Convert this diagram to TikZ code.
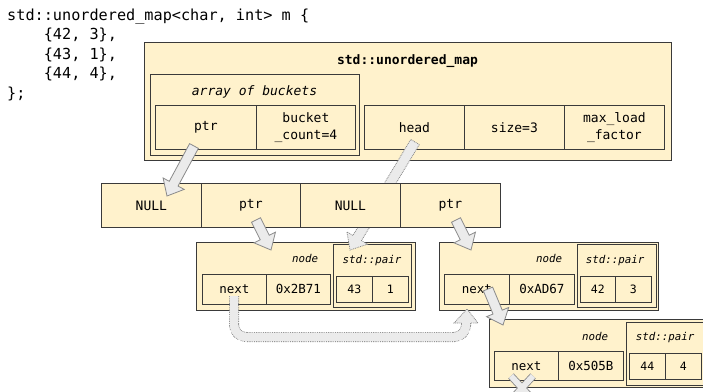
\documentclass[tikz,border=0pt]{standalone}
\usepackage{fontspec}
\setmonofont{DejaVu Sans Mono}
\usetikzlibrary{calc}
\definecolor{cream}{HTML}{FFF2CC}
\definecolor{edge}{HTML}{3A3A3A}
\definecolor{afill}{HTML}{EBEBEB}
\definecolor{aedge}{HTML}{8A8A8A}
\tikzset{
  box/.style={draw=edge, fill=cream, line width=0.8pt, inner sep=0pt, anchor=north west, align=center},
  bigcell/.style={box, font=\ttfamily\fontsize{13}{17}\selectfont},
  ncell/.style={box, font=\ttfamily\fontsize{12.5}{14}\selectfont},
  pcell/.style={box, font=\ttfamily\fontsize{11.5}{13}\selectfont},
  code/.style={anchor=base west, inner sep=0pt, font=\ttfamily\fontsize{15.2}{19.5}\selectfont},
  boldtitle/.style={inner sep=0pt, font=\ttfamily\bfseries\fontsize{13}{16}\selectfont},
  ittitle/.style={inner sep=0pt, font=\ttfamily\itshape\fontsize{13}{16}\selectfont},
  smalllabel/.style={inner sep=0pt, font=\ttfamily\itshape\fontsize{10.8}{13}\selectfont},
  arrowsolid/.style={draw=aedge, fill=afill, line width=0.8pt, line join=miter},
  arrowdotted/.style={arrowsolid, dash pattern=on 0.9pt off 0.9pt},
}
\newcommand\blockarrow[3][]{%
  \coordinate (bah) at ($(#3)!14pt!(#2)$);
  \draw[arrowsolid,#1] ($(#2)!5pt!90:(#3)$) -- ($(bah)!5pt!90:(#3)$) -- ($(bah)!12pt!90:(#3)$) -- (#3) -- ($(bah)!12pt!-90:(#3)$) -- ($(bah)!5pt!-90:(#3)$) -- ($(#2)!5pt!-90:(#3)$) -- cycle;}
\begin{document}
\begin{tikzpicture}[x=1pt,y=-1pt]
\useasboundingbox (0,0) rectangle (703,391);
\clip (0,0) rectangle (703,391);

% code text
\node[code] (c1) at (7,20) {std::unordered\_map<char, int> m \{};
\node[code] (c2) at (7,39.5) {\phantom{0000}\{42, 3\},};
\node[code] (c3) at (7,59) {\phantom{0000}\{43, 1\},};
\node[code] (c4) at (7,78.5) {\phantom{0000}\{44, 4\},};
\node[code] (c5) at (7,98) {\};};

% unordered_map
\node[box, minimum width=527, minimum height=118] (map) at (144,42) {};
\node[boldtitle] (maptitle) at (407.5,61) {std::unordered\_map};
\node[box, minimum width=209, minimum height=81] (arr) at (150,74) {};
\node[ittitle] (arrtitle) at (254.5,92) {array of buckets};
\node[bigcell, minimum width=101, minimum height=44] (ptr) at (155,105) {ptr};
\node[bigcell, minimum width=99, minimum height=44] (bcount) at (256,105) {bucket\\\_count=4};
\node[bigcell, minimum width=100, minimum height=44] (head) at (364,105) {head};
\node[bigcell, minimum width=100, minimum height=44] (size) at (464,105) {size=3};
\node[bigcell, minimum width=100, minimum height=44] (mlf) at (564,105) {max\_load\\\_factor};

% node 1
\node[box, minimum width=219, minimum height=68] (n1) at (196,242) {};
\node[smalllabel] (n1lab) at (305,258) {node};
\node[ncell, minimum width=64, minimum height=30] (n1next) at (202,274) {next};
\node[ncell, minimum width=64, minimum height=30] (n1hash) at (266,274) {0x2B71};
\node[box, minimum width=78, minimum height=63] (n1pair) at (333,244) {};
\node[smalllabel] (n1plab) at (372,261) {std::pair};
\node[pcell, minimum width=36, minimum height=26] (n1k) at (336,276) {43};
\node[pcell, minimum width=36, minimum height=26] (n1v) at (372,276) {1};

% node 2
\node[box, minimum width=219, minimum height=68] (n2) at (439,242) {};
\node[smalllabel] (n2lab) at (549,258) {node};
\node[ncell, minimum width=65, minimum height=30] (n2next) at (444,274) {next};
\node[ncell, minimum width=65, minimum height=30] (n2hash) at (509,274) {0xAD67};
\node[box, minimum width=79, minimum height=63] (n2pair) at (577,244) {};
\node[smalllabel] (n2plab) at (615,261) {std::pair};
\node[pcell, minimum width=35, minimum height=26] (n2k) at (580,276) {42};
\node[pcell, minimum width=36, minimum height=26] (n2v) at (615,276) {3};

% node 3
\node[box, minimum width=220, minimum height=68] (n3) at (489,319) {};
\node[smalllabel] (n3lab) at (595,336) {node};
\node[ncell, minimum width=64, minimum height=29] (n3next) at (494,351) {next};
\node[ncell, minimum width=65, minimum height=29] (n3hash) at (558,351) {0x505B};
\node[box, minimum width=79, minimum height=63] (n3pair) at (626,322) {};
\node[smalllabel] (n3plab) at (665,338) {std::pair};
\node[pcell, minimum width=36, minimum height=26] (n3k) at (629,353) {44};
\node[pcell, minimum width=36, minimum height=26] (n3v) at (665,353) {4};

% head -> first pair (behind the bucket row)
\coordinate (headtail) at (415,142);
\coordinate (pairtip) at (350,250);
\blockarrow[arrowdotted]{headtail}{pairtip}

% bucket array
\node[bigcell, minimum width=100, minimum height=44] (b0) at (101,183) {NULL};
\node[bigcell, minimum width=99, minimum height=44] (b1) at (201,183) {ptr};
\node[bigcell, minimum width=100, minimum height=44] (b2) at (300,183) {NULL};
\node[bigcell, minimum width=100, minimum height=44] (b3) at (400,183) {ptr};

% node1.next -> node2 (curved, dotted)
\coordinate (nxt1) at (234,296);
\coordinate (bendA) at (234,337);
\coordinate (bendB) at (466,337);
\coordinate (nxt2base) at (466,323);
\coordinate (nxt2tip) at (467,309);
\fill[afill] ($(nxt2base)+(-12,0)$) -- (nxt2tip) -- ($(nxt2base)+(12,0)$) -- cycle;
\draw[aedge, line width=10pt, dash pattern=on 0.9pt off 0.9pt, rounded corners=12pt] (nxt1) -- (bendA) -- (bendB) -- (nxt2base);
\draw[afill, line width=8.4pt, rounded corners=12pt] (nxt1) -- (bendA) -- (bendB) -- ($(nxt2base)+(0,-1)$);
\draw[aedge, line width=0.8pt, dash pattern=on 0.9pt off 0.9pt] ($(nxt2base)+(-4.6,0)$) -- ($(nxt2base)+(-12,0)$) -- (nxt2tip) -- ($(nxt2base)+(12,0)$) -- ($(nxt2base)+(4.6,0)$);

% solid arrows
\coordinate (ptrtail) at (194,146);
\coordinate (nulltip) at (167,196);
\blockarrow{ptrtail}{nulltip}
\coordinate (b1tail) at (256,220);
\coordinate (n1tip) at (271,250);
\blockarrow{b1tail}{n1tip}
\coordinate (b3tail) at (456,220);
\coordinate (n2tip) at (471,250);
\blockarrow{b3tail}{n2tip}
\coordinate (n2tail) at (488,289);
\coordinate (n3tip) at (503,325);
\blockarrow{n2tail}{n3tip}

% null mark
\coordinate (xa) at (511,376);
\coordinate (xb) at (533,400);
\coordinate (xc) at (533,376);
\coordinate (xd) at (511,400);
\draw[aedge, line width=7.5pt] (xa) -- (xb) (xc) -- (xd);
\draw[afill, line width=5.8pt] (xa) -- (xb) (xc) -- (xd);
\end{tikzpicture}
\end{document}
